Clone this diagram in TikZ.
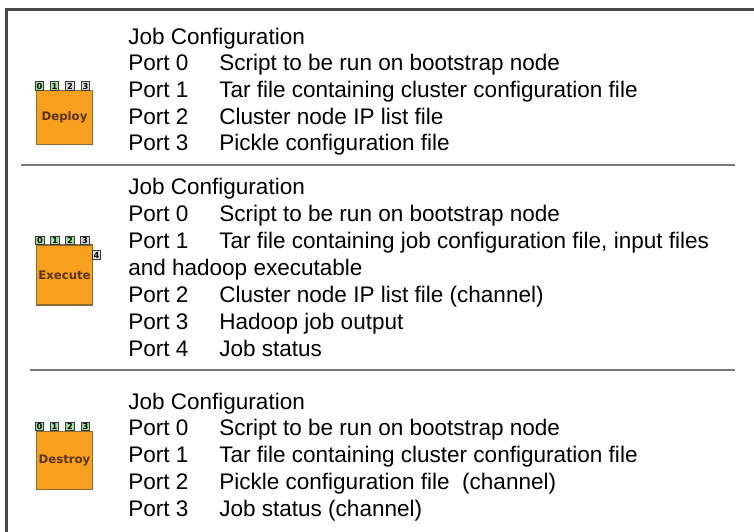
\documentclass[tikz,border=0pt]{standalone}
\usepackage{fontspec}
\setmainfont{Liberation Sans}
\newfontfamily\iconfont{DejaVu Sans}
\definecolor{frameline}{HTML}{4A4A4A}
\definecolor{ruleline}{HTML}{7A7A7A}
\definecolor{jobfill}{HTML}{F6A01E}
\definecolor{jobedge}{HTML}{8C6A34}
\definecolor{jobtext}{HTML}{5E3410}
\definecolor{portgreen}{HTML}{9FE39F}
\definecolor{portgrey}{HTML}{DCDCE6}
\definecolor{portedge}{HTML}{3A3A3A}
\begin{document}
\begin{tikzpicture}[x=0.75pt,y=-0.75pt,
  txt/.style={anchor=base west,inner sep=0pt,font=\fontsize{16.9pt}{18pt}\selectfont},
  jobbox/.style={draw=jobedge,line width=0.9pt,fill=jobfill,minimum width=41.5pt,inner sep=0pt,
    font=\iconfont\bfseries\fontsize{8.8pt}{9pt}\selectfont,text=jobtext},
  portbox/.style={draw=portedge,line width=0.7pt,minimum width=6.2pt,minimum height=6.2pt,inner sep=0pt,
    font=\iconfont\bfseries\fontsize{6.2pt}{6.4pt}\selectfont},
  on/.style={portbox,fill=portgreen},
  off/.style={portbox,fill=portgrey},
  sep/.style={draw=ruleline,line width=1.5pt}]
\useasboundingbox (0,0) rectangle (754,532);
\fill[white] (0,0) rectangle (754,532);

% outer frame (open at the right and the bottom)
\draw[frameline,line width=1.6pt] (6.5,532) -- (6.5,9.5) -- (754,9.5);

% section separators
\coordinate (s1a) at (21,165); \coordinate (s1b) at (735,165);
\coordinate (s2a) at (30,370); \coordinate (s2b) at (735,370);
\draw[sep] (s1a) -- (s1b);
\draw[sep] (s2a) -- (s2b);

% ---- Deploy job icon
\node[jobbox,minimum height=40pt] (deploy) at (64.5,117.5) {Deploy};
\node[on]  (d0) at (39.5,86) {0};
\node[on]  (d1) at (54.5,86) {1};
\node[off] (d2) at (70,86) {2};
\node[off] (d3) at (85.5,86) {3};

% ---- Execute job icon
\node[jobbox,minimum height=45pt] (execute) at (64.5,275) {Execute};
\node[on]  (e0) at (40,240.5) {0};
\node[on]  (e1) at (55,240.5) {1};
\node[on]  (e2) at (70,240.5) {2};
\node[off] (e3) at (85,240.5) {3};
\node[off] (e4) at (96.5,255) {4};

% ---- Destroy job icon
\node[jobbox,minimum height=44pt] (destroy) at (64.5,460.5) {Destroy};
\node[on] (x0) at (39.5,426.5) {0};
\node[on] (x1) at (54.5,426.5) {1};
\node[on] (x2) at (70,426.5) {2};
\node[on] (x3) at (85.5,426.5) {3};

% ---- Deploy description
\node[txt] (dh) at (128,44) {Job Configuration};
\node[txt] (dp0) at (128,70.7) {Port 0};  \node[txt] (dt0) at (219,70.7) {Script to be run on bootstrap node};
\node[txt] (dp1) at (128,97.3) {Port 1};  \node[txt] (dt1) at (219,97.3) {Tar file containing cluster configuration file};
\node[txt] (dp2) at (128,124) {Port 2};   \node[txt] (dt2) at (219,124) {Cluster node IP list file};
\node[txt] (dp3) at (128,150.7) {Port 3}; \node[txt] (dt3) at (219,150.7) {Pickle configuration file};

% ---- Execute description
\node[txt] (eh) at (128,194) {Job Configuration};
\node[txt] (ep0) at (128,221) {Port 0}; \node[txt] (et0) at (219,221) {Script to be run on bootstrap node};
\node[txt] (ep1) at (128,248) {Port 1}; \node[txt] (et1) at (219,248) {Tar file containing job configuration file, input files};
\node[txt] (et1b) at (128,275) {and hadoop executable};
\node[txt] (ep2) at (128,302) {Port 2}; \node[txt] (et2) at (219,302) {Cluster node IP list file (channel)};
\node[txt] (ep3) at (128,329) {Port 3}; \node[txt] (et3) at (219,329) {Hadoop job output};
\node[txt] (ep4) at (128,356) {Port 4}; \node[txt] (et4) at (219,356) {Job status};

% ---- Destroy description
\node[txt] (xh) at (128,409) {Job Configuration};
\node[txt] (xp0) at (128,435.5) {Port 0}; \node[txt] (xt0) at (219,435.5) {Script to be run on bootstrap node};
\node[txt] (xp1) at (128,462) {Port 1};   \node[txt] (xt1) at (219,462) {Tar file containing cluster configuration file};
\node[txt] (xp2) at (128,489) {Port 2};   \node[txt] (xt2) at (219,489) {Pickle configuration file\ \ (channel)};
\node[txt] (xp3) at (128,516) {Port 3};   \node[txt] (xt3) at (219,516) {Job status (channel)};
\end{tikzpicture}
\end{document}
